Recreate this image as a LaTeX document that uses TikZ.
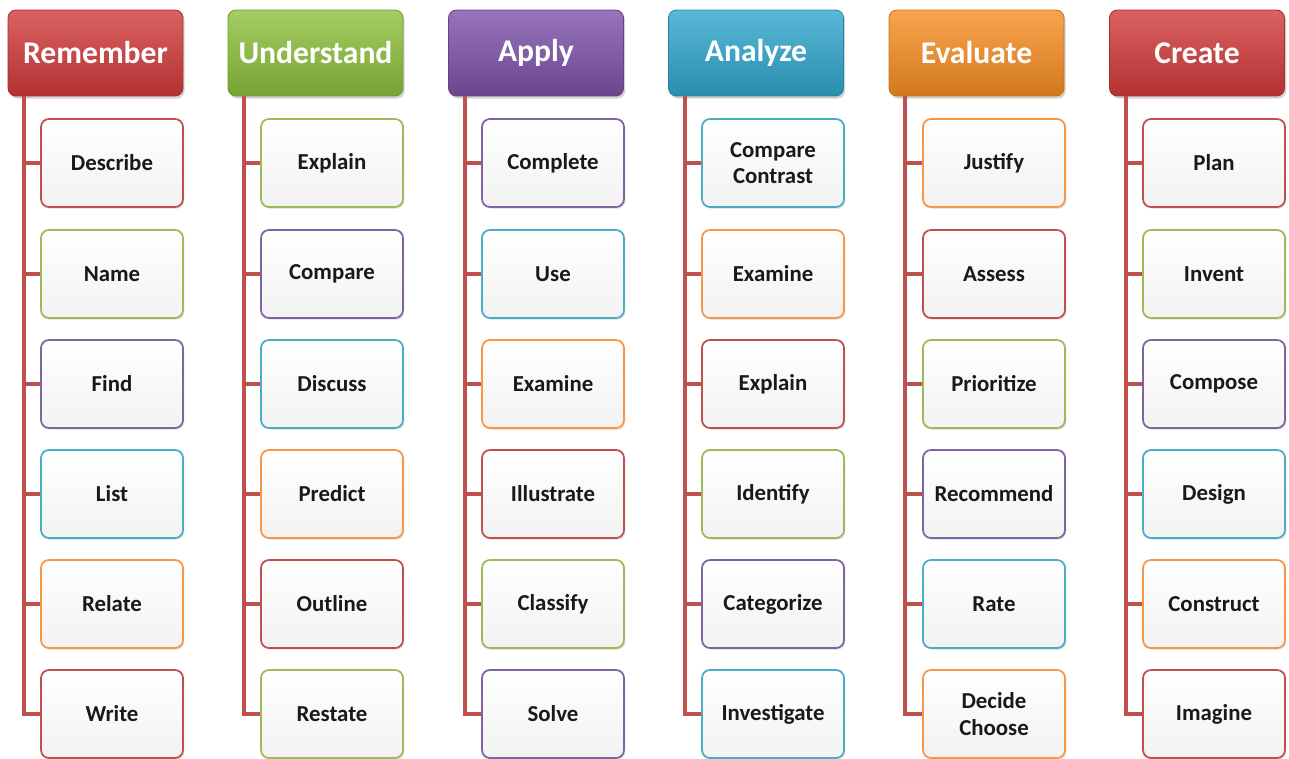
\documentclass[tikz,border=0pt]{standalone}
\usepackage{fontspec}
\setmainfont{Carlito}
\usetikzlibrary{shadows}

\definecolor{lred}{HTML}{C0504D}
\definecolor{lgreen}{HTML}{9BBB59}
\definecolor{lpurple}{HTML}{8064A2}
\definecolor{laqua}{HTML}{4BACC6}
\definecolor{lorange}{HTML}{F79646}
\definecolor{hred}{HTML}{D23A3A}
\definecolor{hgreen}{HTML}{8DC03C}
\definecolor{hpurple}{HTML}{7D52A8}
\definecolor{haqua}{HTML}{30A6CC}
\definecolor{horange}{HTML}{F78E22}

\tikzset{
  head/.style={rounded corners=4.5pt, draw=#1!80!black, line width=0.5pt,
    top color=#1!80!white, bottom color=#1!85!black, text=white,
    minimum width=3.5cm, minimum height=1.72cm,
    font=\bfseries\fontsize{18}{20}\selectfont,
    drop shadow={opacity=0.35, shadow xshift=1pt, shadow yshift=-1.5pt}},
  item/.style={rounded corners=4.5pt, draw=#1, line width=1pt,
    top color=white, bottom color=black!5, text=black!90,
    minimum width=2.84cm, minimum height=1.76cm, align=center,
    font=\bfseries\fontsize{13}{15}\selectfont,
    drop shadow={opacity=0.2, shadow xshift=0.8pt, shadow yshift=-1pt}},
  link/.style={lred, line width=2pt}
}

\begin{document}
\begin{tikzpicture}[x=0.02cm, y=-0.02cm]
  \useasboundingbox (0,0) rectangle (1289,758);

  \path
    coordinate (remx) at (24,0)
    coordinate (undx) at (244,0)
    coordinate (appx) at (465,0)
    coordinate (anax) at (685,0)
    coordinate (evax) at (905,0)
    coordinate (crex) at (1126,0)
  ;

  \node[head=hred]    (rem) at (95.5,53)  {Remember};
  \node[head=hgreen]  (und) at (315.5,53) {Understand};
  \node[head=hpurple] (app) at (536,53)   {Apply};
  \node[head=haqua]   (ana) at (756,53)   {Analyze};
  \node[head=horange] (eva) at (976.5,53) {Evaluate};
  \node[head=hred]    (cre) at (1197,53)  {Create};

  \node[item=lred]    (rem1) at (112,163) {Describe};
  \node[item=lgreen]  (rem2) at (112,274) {Name};
  \node[item=lpurple] (rem3) at (112,384) {Find};
  \node[item=laqua]   (rem4) at (112,494) {List};
  \node[item=lorange] (rem5) at (112,604) {Relate};
  \node[item=lred]    (rem6) at (112,714) {Write};

  \node[item=lgreen]  (und1) at (332,163) {Explain};
  \node[item=lpurple] (und2) at (332,274) {Compare};
  \node[item=laqua]   (und3) at (332,384) {Discuss};
  \node[item=lorange] (und4) at (332,494) {Predict};
  \node[item=lred]    (und5) at (332,604) {Outline};
  \node[item=lgreen]  (und6) at (332,714) {Restate};

  \node[item=lpurple] (app1) at (553,163) {Complete};
  \node[item=laqua]   (app2) at (553,274) {Use};
  \node[item=lorange] (app3) at (553,384) {Examine};
  \node[item=lred]    (app4) at (553,494) {Illustrate};
  \node[item=lgreen]  (app5) at (553,604) {Classify};
  \node[item=lpurple] (app6) at (553,714) {Solve};

  \node[item=laqua]   (ana1) at (773,163) {Compare\\Contrast};
  \node[item=lorange] (ana2) at (773,274) {Examine};
  \node[item=lred]    (ana3) at (773,384) {Explain};
  \node[item=lgreen]  (ana4) at (773,494) {Identify};
  \node[item=lpurple] (ana5) at (773,604) {Categorize};
  \node[item=laqua]   (ana6) at (773,714) {Investigate};

  \node[item=lorange] (eva1) at (994,163) {Justify};
  \node[item=lred]    (eva2) at (994,274) {Assess};
  \node[item=lgreen]  (eva3) at (994,384) {Prioritize};
  \node[item=lpurple] (eva4) at (994,494) {Recommend};
  \node[item=laqua]   (eva5) at (994,604) {Rate};
  \node[item=lorange] (eva6) at (994,714) {Decide\\Choose};

  \node[item=lred]    (cre1) at (1214,163) {Plan};
  \node[item=lgreen]  (cre2) at (1214,274) {Invent};
  \node[item=lpurple] (cre3) at (1214,384) {Compose};
  \node[item=laqua]   (cre4) at (1214,494) {Design};
  \node[item=lorange] (cre5) at (1214,604) {Construct};
  \node[item=lred]    (cre6) at (1214,714) {Imagine};

  \draw[link] (rem.south -| remx) |- (rem6.west)
    (rem1.west -| remx) -- (rem1.west) (rem2.west -| remx) -- (rem2.west)
    (rem3.west -| remx) -- (rem3.west) (rem4.west -| remx) -- (rem4.west)
    (rem5.west -| remx) -- (rem5.west);
  \draw[link] (und.south -| undx) |- (und6.west)
    (und1.west -| undx) -- (und1.west) (und2.west -| undx) -- (und2.west)
    (und3.west -| undx) -- (und3.west) (und4.west -| undx) -- (und4.west)
    (und5.west -| undx) -- (und5.west);
  \draw[link] (app.south -| appx) |- (app6.west)
    (app1.west -| appx) -- (app1.west) (app2.west -| appx) -- (app2.west)
    (app3.west -| appx) -- (app3.west) (app4.west -| appx) -- (app4.west)
    (app5.west -| appx) -- (app5.west);
  \draw[link] (ana.south -| anax) |- (ana6.west)
    (ana1.west -| anax) -- (ana1.west) (ana2.west -| anax) -- (ana2.west)
    (ana3.west -| anax) -- (ana3.west) (ana4.west -| anax) -- (ana4.west)
    (ana5.west -| anax) -- (ana5.west);
  \draw[link] (eva.south -| evax) |- (eva6.west)
    (eva1.west -| evax) -- (eva1.west) (eva2.west -| evax) -- (eva2.west)
    (eva3.west -| evax) -- (eva3.west) (eva4.west -| evax) -- (eva4.west)
    (eva5.west -| evax) -- (eva5.west);
  \draw[link] (cre.south -| crex) |- (cre6.west)
    (cre1.west -| crex) -- (cre1.west) (cre2.west -| crex) -- (cre2.west)
    (cre3.west -| crex) -- (cre3.west) (cre4.west -| crex) -- (cre4.west)
    (cre5.west -| crex) -- (cre5.west);

\end{tikzpicture}
\end{document}
